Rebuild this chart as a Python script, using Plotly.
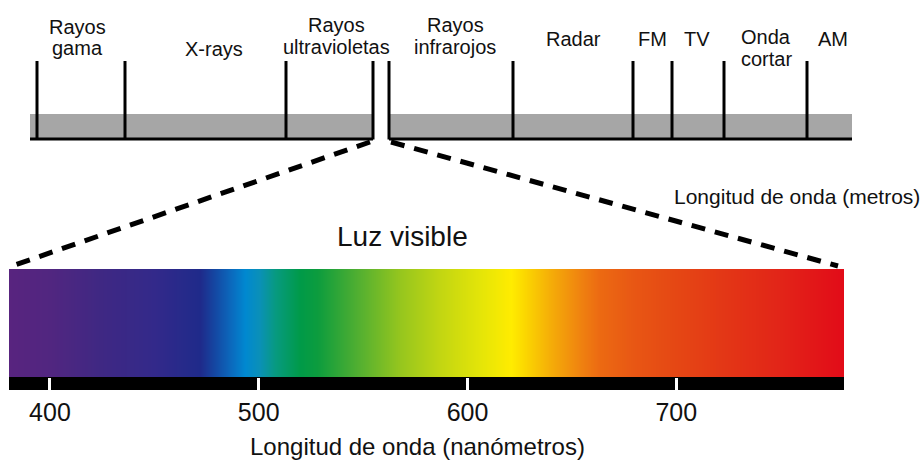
import plotly.graph_objects as go

# ---------------- data ----------------
# Visible spectrum colour stops (wavelength in nm -> colour)
vis_nm = [380.4, 400, 424, 450, 472, 479, 487, 493.4, 500, 508, 519.7, 528,
          548.5, 567.6, 586.8, 606, 621, 627, 640, 655, 663, 680, 700, 725, 750, 780.3]
vis_col = ["#58247f", "#512680", "#3f2883", "#33298a", "#1f2a8a", "#1448a3", "#0a6cbf",
           "#0088d0", "#0a90b8", "#079a80", "#009a48", "#0c9c3e", "#55b030", "#96c61e",
           "#c2d612", "#e4e508", "#ffec00", "#fbd800", "#f5ac08", "#ef8010", "#ec6a12",
           "#e85614", "#e54714", "#e33516", "#e22418", "#e20b18"]
nm_ticks = [400, 500, 600, 700]
nm_range = [380.4, 780.3]

# Electromagnetic spectrum schematic (positions along the schematic scale)
band_edges = [37, 125, 286, 373, 389, 513, 633, 672, 724, 807]
band_left = [30, 373]
band_right = [389, 852]
band_labels = [["Rayos", "gama"], ["X-rays"], ["Rayos", "ultravioletas"],
               ["Rayos", "infrarojos"], ["Radar"], ["FM"], ["TV"], ["Onda", "cortar"], ["AM"]]
label_x = [77, 214, 336, 455, 573, 652, 697, 766, 833]
label_y = [[27, 48], [49], [25, 47], [25, 47], [39], [39], [39], [37, 59], [39]]

FONT = "Arial, Liberation Sans, sans-serif"
W, H = 921, 463

fig = go.Figure()

# ---------------- visible spectrum heatmap ----------------
lo, hi = nm_range
cscale = [[(v - lo) / (hi - lo), c] for v, c in zip(vis_nm, vis_col)]
fig.add_trace(go.Heatmap(
    x=vis_nm, y=[0, 1], z=[vis_nm, vis_nm],
    colorscale=cscale, zmin=lo, zmax=hi, zsmooth="best",
    showscale=False, hoverinfo="skip", xaxis="x", yaxis="y"))

# ---------------- top schematic ----------------
for seg in (band_left, band_right):
    fig.add_trace(go.Scatter(
        x=[seg[0], seg[1], seg[1], seg[0], seg[0]], y=[114, 114, 138, 138, 114],
        fill="toself", fillcolor="#a6a6a6", line=dict(width=0), mode="lines",
        hoverinfo="skip", xaxis="x2", yaxis="y2"))
    fig.add_trace(go.Scatter(
        x=[seg[0], seg[1]], y=[139, 139], mode="lines",
        line=dict(color="black", width=3), hoverinfo="skip", xaxis="x2", yaxis="y2"))

vx, vy = [], []
for b in band_edges:
    vx += [b, b, None]
    vy += [61, 139.5, None]
fig.add_trace(go.Scatter(x=vx, y=vy, mode="lines", line=dict(color="black", width=3),
                         hoverinfo="skip", xaxis="x2", yaxis="y2"))

# dashed zoom lines
fig.add_trace(go.Scatter(x=[370, 12], y=[142, 266], mode="lines",
                         line=dict(color="black", width=5, dash="14px,10px"),
                         hoverinfo="skip", xaxis="x2", yaxis="y2"))
fig.add_trace(go.Scatter(x=[391, 838], y=[142, 266], mode="lines",
                         line=dict(color="black", width=5, dash="14px,10px"),
                         hoverinfo="skip", xaxis="x2", yaxis="y2"))

annots = []
for lines, x, ys in zip(band_labels, label_x, label_y):
    for t, y in zip(lines, ys):
        annots.append(dict(x=x, y=y, xref="x2", yref="y2", text=t, showarrow=False,
                           xanchor="center", yanchor="middle",
                           font=dict(family=FONT, size=20, color="#111")))

annots.append(dict(x=797, y=196, xref="x2", yref="y2", text="Longitud de onda (metros)",
                   showarrow=False, xanchor="center", yanchor="middle",
                   font=dict(family=FONT, size=21, color="#111")))
annots.append(dict(x=402, y=236, xref="x2", yref="y2", text="Luz visible",
                   showarrow=False, xanchor="center", yanchor="middle",
                   font=dict(family=FONT, size=28, color="#111")))
annots.append(dict(x=417, y=446, xref="x2", yref="y2", text="Longitud de onda (nanómetros)",
                   showarrow=False, xanchor="center", yanchor="middle",
                   font=dict(family=FONT, size=24, color="#111")))

x0p, x1p = 9 / W, 844 / W
fig.update_layout(
    width=W, height=H, margin=dict(l=0, r=0, t=0, b=0),
    paper_bgcolor="white", plot_bgcolor="rgba(0,0,0,0)", showlegend=False,
    xaxis=dict(domain=[x0p, x1p], range=nm_range, tickvals=nm_ticks,
               ticks="outside", ticklen=13, tickwidth=3, tickcolor="white",
               showgrid=False, zeroline=False, showline=False,
               tickfont=dict(family=FONT, size=25, color="#111"), anchor="y"),
    yaxis=dict(domain=[(H - 377) / H, (H - 269) / H], range=[-0.5, 1.5], visible=False,
               anchor="x"),
    xaxis2=dict(domain=[0, 1], range=[0, W], visible=False, anchor="y2"),
    yaxis2=dict(domain=[0, 1], range=[H, 0], visible=False, anchor="x2"),
    annotations=annots,
    shapes=[dict(type="rect", xref="paper", yref="paper", x0=x0p, x1=x1p,
                 y0=(H - 390) / H, y1=(H - 377) / H, fillcolor="black",
                 line=dict(width=0), layer="below")],
)

fig.write_html("out.html", config={"displayModeBar": False},
               post_script="document.body.style.margin='0';document.body.style.overflow='hidden';")
